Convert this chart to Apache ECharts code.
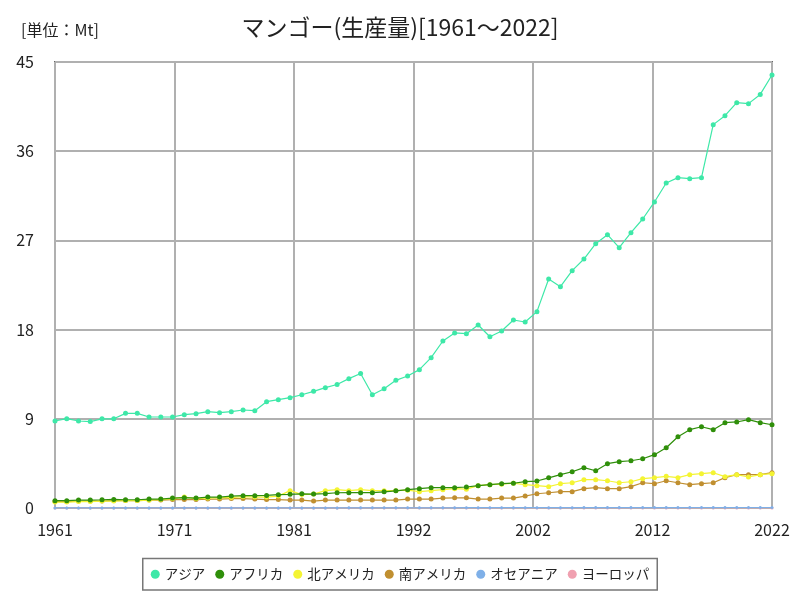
<!DOCTYPE html>
<html><head><meta charset="utf-8">
<script src="https://cdn.jsdelivr.net/npm/echarts@6/dist/echarts.min.js"></script>
<style>html,body{margin:0;padding:0;background:#fff}#c{width:800px;height:600px}</style>
</head><body><div id="c"></div>
<script>
const startYear = 1961;
const years = [];
for (let y = 1961; y <= 2022; y++) years.push(y);
const seriesNames = ['アジア','アフリカ','北アメリカ','南アメリカ','オセアニア','ヨーロッパ'];
const asia = [8.78,9.01,8.78,8.72,9.0,9.0,9.55,9.55,9.18,9.18,9.18,9.42,9.52,9.72,9.62,9.72,9.89,9.82,10.73,10.93,11.13,11.43,11.77,12.14,12.46,13.05,13.57,11.42,12.04,12.88,13.32,13.96,15.17,16.85,17.66,17.59,18.46,17.28,17.86,18.97,18.77,19.81,23.1,22.33,23.95,25.12,26.67,27.58,26.27,27.78,29.16,30.88,32.79,33.33,33.23,33.33,38.68,39.58,40.9,40.8,41.73,43.69];
const africa = [0.74,0.74,0.8,0.8,0.83,0.87,0.83,0.83,0.9,0.9,1.0,1.04,1.0,1.1,1.1,1.2,1.24,1.24,1.27,1.34,1.38,1.43,1.41,1.45,1.54,1.55,1.55,1.55,1.63,1.73,1.85,1.95,2.05,2.05,2.05,2.12,2.25,2.35,2.45,2.5,2.66,2.72,3.04,3.36,3.66,4.07,3.76,4.47,4.67,4.77,4.97,5.38,6.08,7.19,7.9,8.2,7.9,8.61,8.68,8.91,8.61,8.4];
const northAmerica = [0.6,0.6,0.65,0.65,0.7,0.7,0.75,0.75,0.8,0.85,0.95,1.1,0.95,1.0,1.05,1.05,1.15,1.1,1.1,1.2,1.75,1.35,1.4,1.75,1.85,1.75,1.85,1.75,1.75,1.75,1.8,1.65,1.75,1.85,1.95,1.9,2.25,2.35,2.4,2.5,2.35,2.25,2.15,2.45,2.55,2.86,2.86,2.75,2.55,2.65,2.96,3.06,3.2,3.06,3.36,3.46,3.56,3.16,3.36,3.13,3.36,3.46];
const southAmerica = [0.65,0.65,0.7,0.7,0.7,0.75,0.75,0.75,0.8,0.8,0.85,0.85,0.85,0.9,0.9,0.95,0.95,0.9,0.85,0.85,0.8,0.8,0.7,0.8,0.8,0.8,0.8,0.8,0.8,0.8,0.9,0.9,0.9,1.0,1.03,1.03,0.9,0.9,1.0,1.0,1.2,1.44,1.54,1.65,1.65,1.95,2.05,1.95,1.95,2.15,2.55,2.45,2.75,2.55,2.35,2.45,2.55,3.06,3.36,3.36,3.36,3.56];
const oceania = [0.01,0.01,0.01,0.01,0.01,0.01,0.01,0.01,0.01,0.01,0.01,0.01,0.01,0.01,0.01,0.01,0.01,0.01,0.01,0.01,0.01,0.01,0.01,0.01,0.01,0.02,0.02,0.02,0.02,0.02,0.02,0.02,0.02,0.02,0.02,0.03,0.03,0.03,0.03,0.03,0.03,0.03,0.03,0.03,0.03,0.04,0.04,0.04,0.04,0.04,0.04,0.04,0.04,0.04,0.05,0.05,0.05,0.05,0.05,0.05,0.05,0.05];
const europe = [0,0,0,0,0,0,0,0,0,0,0,0,0,0,0,0,0,0,0,0,0,0,0,0,0,0,0,0,0,0,0,0,0,0,0,0,0,0,0,0,0,0,0,0,0,0,0,0,0,0,0,0,0,0,0,0,0,0,0,0,0,0];
const yTicks = [0,9,18,27,36,45];
const colors = ['#3ee8a8','#2f8f0a','#f4f433','#c08f30','#7fb0e8','#f0a0b0'];
const allData = [asia, africa, northAmerica, southAmerica, oceania, europe];
const symSizes = [5,5,5,5,3,3];

const chart = echarts.init(document.getElementById('c'), null, {renderer:'canvas'});
const font = '"Noto Sans CJK JP", sans-serif';
const span = years[years.length-1] - startYear;
chart.setOption({
  backgroundColor:'#fff',
  animation:false,
  color: colors,
  title:[
    {text:'マンゴー(生産量)[1961～2022]', left:'center', top:11, textStyle:{fontFamily:font,fontSize:23,fontWeight:'normal',color:'#222'}},
    {text:'[単位：Mt]', left:16, top:17, textStyle:{fontFamily:font,fontSize:16,fontWeight:'normal',color:'#222'}}
  ],
  legend:{
    bottom:10, left:'center', icon:'circle', itemWidth:9, itemHeight:9, itemGap:10,
    borderColor:'#777', borderWidth:1.5, borderRadius:0, padding:[9,8],
    textStyle:{fontFamily:font,fontSize:13.5,color:'#222'},
    data: seriesNames
  },
  grid:{left:55, right:28, top:62, bottom:92, show:true, borderColor:'#666', borderWidth:2},
  xAxis:{
    type:'value', min:0, max:span, interval:span/6,
    axisLine:{show:false}, axisTick:{show:false},
    splitLine:{show:true, lineStyle:{color:'#b0b0b0', width:2}},
    axisLabel:{fontFamily:font, fontSize:16, color:'#222', margin:14,
      formatter:v=>String(Math.round(startYear+v))}
  },
  yAxis:{
    type:'value', min:yTicks[0], max:yTicks[yTicks.length-1], interval:yTicks[1]-yTicks[0],
    axisLine:{show:false}, axisTick:{show:false},
    splitLine:{show:true, lineStyle:{color:'#b0b0b0', width:2}},
    axisLabel:{fontFamily:font, fontSize:16, color:'#222', margin:21}
  },
  series: seriesNames.map((n,k)=>({
    name:n, type:'line', symbol:'circle', symbolSize:symSizes[k],
    lineStyle:{width:1.2, color:colors[k]}, itemStyle:{color:colors[k]},
    data: allData[k].map((v,i)=>[years[i]-startYear, v]),
    z: 10-k
  }))
});
</script></body></html>
